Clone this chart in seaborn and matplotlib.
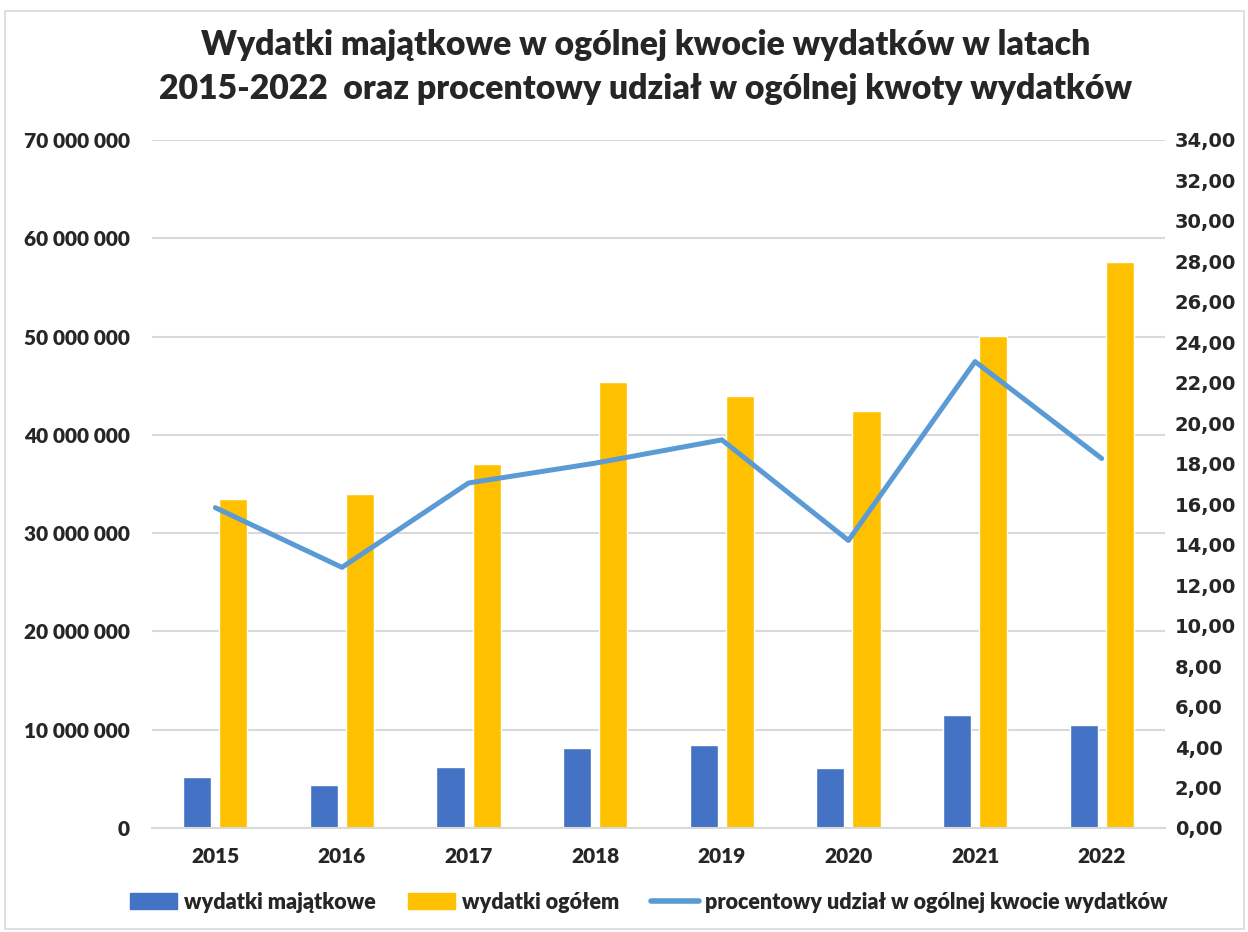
import numpy as np
import pandas as pd
import seaborn as sns
import matplotlib.pyplot as plt
from matplotlib.patches import Patch, Rectangle
from matplotlib.lines import Line2D
from matplotlib.ticker import FuncFormatter, MultipleLocator

years = ["2015", "2016", "2017", "2018", "2019", "2020", "2021", "2022"]
wydatki_majatkowe = [5.22e6, 4.34e6, 6.24e6, 8.15e6, 8.43e6, 6.08e6, 11.54e6, 10.52e6]
wydatki_ogolem = [33.5e6, 34.0e6, 37.05e6, 45.42e6, 43.92e6, 42.45e6, 50.07e6, 57.6e6]
udzial_proc = [15.83, 12.88, 17.05, 18.03, 19.18, 14.21, 23.05, 18.26]

name_maj = "wydatki majątkowe"
name_ogol = "wydatki ogółem"
name_line = "procentowy udział w ogólnej kwocie wydatków"

df = pd.DataFrame({"rok": years * 2,
                   "kwota": wydatki_majatkowe + wydatki_ogolem,
                   "seria": [name_maj] * len(years) + [name_ogol] * len(years)})

sns.set_theme(style="white")
plt.rcParams['font.family'] = ['Lato', 'DejaVu Sans']

blue = "#4472C4"
yellow = "#FFC000"
lineblue = "#5B9BD5"

fig = plt.figure(figsize=(12.48, 9.32), dpi=100)
ax1 = fig.add_axes([0.1218, 0.1116, 0.8117, 0.7382])

sns.barplot(data=df, x="rok", y="kwota", hue="seria", palette=[blue, yellow],
            width=0.57, gap=0.22, saturation=1, ax=ax1, legend=False)
ax1.set_xlim(-0.5, 7.5)
ax1.set_ylim(0, 70e6)
ax1.yaxis.set_major_locator(MultipleLocator(10e6))
ax1.yaxis.set_major_formatter(FuncFormatter(lambda v, p: "{:,.0f}".format(v).replace(",", " ")))
ax1.grid(axis="y", color="#D9D9D9", lw=1.5)
ax1.set_axisbelow(True)
for s in ["top", "left", "right"]:
    ax1.spines[s].set_visible(False)
ax1.spines["bottom"].set_color("#D9D9D9")
ax1.spines["bottom"].set_linewidth(1.5)
ax1.set_xlabel("")
ax1.set_ylabel("")
ax1.tick_params(axis="both", length=0)
ax1.tick_params(axis="y", pad=16)
ax1.tick_params(axis="x", pad=14)
for lab in ax1.get_yticklabels():
    lab.set_fontsize(15)
    lab.set_fontweight("heavy")
for lab in ax1.get_xticklabels():
    lab.set_fontsize(15)
    lab.set_fontweight("heavy")

ax2 = ax1.twinx()
sns.lineplot(x=np.arange(len(years)), y=udzial_proc, color=lineblue, lw=3.6,
             ax=ax2, solid_capstyle="round", solid_joinstyle="round")
ax2.set_ylim(0, 34)
ax2.yaxis.set_major_locator(MultipleLocator(2))
ax2.yaxis.set_major_formatter(FuncFormatter(lambda v, p: "{:.2f}".format(v).replace(".", ",")))
for s in ax2.spines.values():
    s.set_visible(False)
ax2.tick_params(axis="y", length=0, pad=7)
for lab in ax2.get_yticklabels():
    lab.set_fontsize(14)
    lab.set_fontweight("bold")
    lab.set_fontfamily("DejaVu Sans")

fig.text(0.517, 0.952, "Wydatki majątkowe w ogólnej kwocie wydatków w latach",
         ha="center", va="center", fontsize=24.3, fontweight="heavy")
fig.text(0.517, 0.905, "2015-2022  oraz procentowy udział w ogólnej kwoty wydatków",
         ha="center", va="center", fontsize=24.3, fontweight="heavy")

handles = [Patch(color=blue), Patch(color=yellow), Line2D([0], [0], color=lineblue, lw=4)]
fig.legend(handles, [name_maj, name_ogol, name_line], loc="center", bbox_to_anchor=(0.52, 0.032),
           ncol=3, frameon=False, prop={"size": 15.5, "weight": "heavy"},
           handlelength=2.2, handleheight=0.8, columnspacing=1.5, handletextpad=0.3)

fig.patches.append(Rectangle((0.004, 0.003), 0.993, 0.985, transform=fig.transFigure,
                             fill=False, edgecolor="#D9D9D9", lw=1.2))

fig.savefig("out.png", dpi=100)
